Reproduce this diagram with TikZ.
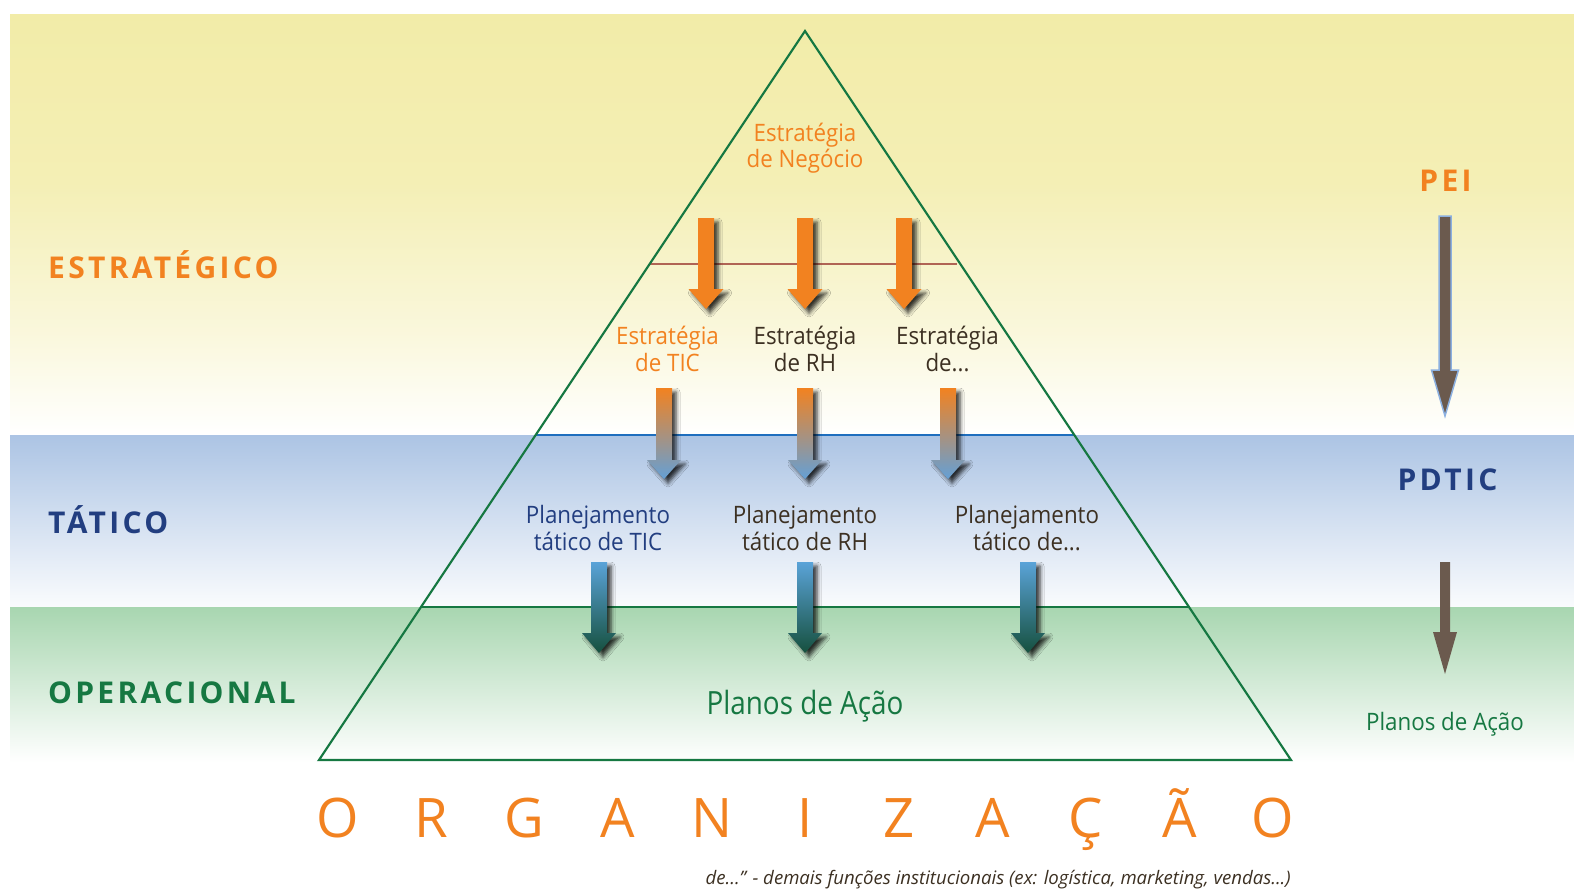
\documentclass[tikz,border=0pt]{standalone}
\usepackage{fontspec}
\setmainfont{Open Sans}
\newfontfamily\headf[LetterSpace=11]{Open Sans}
\newfontfamily\bigf[FakeStretch=0.87]{Open Sans}
\newfontfamily\lblf[FakeStretch=0.93]{Open Sans}
\usetikzlibrary{shadows.blur}
\definecolor{orng}{RGB}{242,130,32}
\definecolor{navy}{RGB}{34,62,128}
\definecolor{grn}{RGB}{22,120,66}
\definecolor{dbrown}{RGB}{60,48,34}
\definecolor{ylw}{RGB}{242,236,168}
\definecolor{blu}{RGB}{172,196,228}
\definecolor{lgrn}{RGB}{168,214,176}
\definecolor{pbrown}{RGB}{107,90,78}
\definecolor{pblue}{RGB}{140,176,224}
\definecolor{lineblue}{RGB}{30,110,190}
\definecolor{linebrown}{RGB}{176,100,84}
\definecolor{tblue}{RGB}{90,163,216}
\definecolor{tgreen}{RGB}{22,80,62}
\definecolor{obl}{RGB}{100,160,214}
\pgfdeclareverticalshading{yfade}{100bp}{color(0bp)=(white); color(25bp)=(white); color(37bp)=(ylw!40); color(55bp)=(ylw!85); color(75bp)=(ylw); color(100bp)=(ylw)}
% block arrow: x, top y, head y, tip y, half shaft, half head, style
\newcommand\barrow[7]{\path[#7] (#1-#5,-#2) -- (#1+#5,-#2) -- (#1+#5,-#3) -- (#1+#6,-#3) -- (#1,-#4) -- (#1-#6,-#3) -- (#1-#5,-#3) -- cycle;}
\tikzset{
  ashadow/.style={blur shadow={shadow xshift=4pt,shadow yshift=-4pt,shadow blur radius=4pt,shadow opacity=80}},
  lbl/.style={font=\lblf\fontsize{24}{26.5}\selectfont, align=center, inner sep=0pt},
  head/.style={font=\headf\bfseries\fontsize{30}{36}\selectfont, inner sep=0pt},
  orgletter/.style={font=\fontsize{54.5}{60}\selectfont, text=orng, inner sep=0pt, anchor=base},
  pyr/.style={grn, line width=2.2pt, line join=miter},
}
\begin{document}
\begin{tikzpicture}[x=1pt,y=1pt]
\useasboundingbox (0,0) rectangle (1574,-889);
\fill[white] (0,0) rectangle (1574,-889);
% bands
\shade[shading=yfade] (10,-14) rectangle (1574,-435);
\shade[top color=blu, bottom color=white!94!blu] (10,-435) rectangle (1574,-607);
\shade[top color=lgrn, bottom color=white] (10,-607) rectangle (1574,-762);
% pyramid
\coordinate (apex) at (805,-31);
\coordinate (bl) at (319,-760);
\coordinate (br) at (1291,-760);
\coordinate (s1l) at (650,-264);
\coordinate (s1r) at (957,-264);
\coordinate (s2l) at (535.7,-435);
\coordinate (s2r) at (1074.3,-435);
\coordinate (s3l) at (421,-607);
\coordinate (s3r) at (1189,-607);
\draw[linebrown, line width=2.2pt] (s1l) -- (s1r);
\draw[lineblue, line width=2.5pt] (s2l) -- (s2r);
\draw[grn, line width=2.5pt] (s3l) -- (s3r);
\draw[pyr] (apex) -- (bl) -- (br) -- cycle;
% orange arrows
\barrow{706}{218}{289}{309}{8}{17.5}{fill=orng, ashadow}
\barrow{805}{218}{289}{309}{8}{17.5}{fill=orng, ashadow}
\barrow{904}{218}{289}{309}{8}{17.5}{fill=orng, ashadow}
% orange-blue arrows
\barrow{664}{388}{460}{479}{8}{17}{top color=orng, bottom color=obl, ashadow}
\barrow{805}{388}{460}{479}{8}{17}{top color=orng, bottom color=obl, ashadow}
\barrow{948}{388}{460}{479}{8}{17}{top color=orng, bottom color=obl, ashadow}
% blue-green arrows
\barrow{599}{562}{633}{653}{8}{17}{top color=tblue, bottom color=tgreen, ashadow}
\barrow{805}{562}{633}{653}{8}{17}{top color=tblue, bottom color=tgreen, ashadow}
\barrow{1028}{562}{633}{653}{8}{17}{top color=tblue, bottom color=tgreen, ashadow}
% right column arrows
\barrow{1445}{216}{370}{416}{6}{13.5}{fill=pbrown, draw=pblue, line width=1.5pt}
\barrow{1445}{562}{632}{674}{5}{12}{fill=pbrown}
% texts in pyramid
\node[lbl, text=orng] (neg) at (805,-148) {Estratégia\\de Negócio};
\node[lbl, text=orng] (etic) at (667.5,-349) {Estratégia\\de TIC};
\node[lbl, text=dbrown] (erh) at (805,-349) {Estratégia\\de RH};
\node[lbl, text=dbrown] (eoutro) at (947.5,-349) {Estratégia\\de...};
\node[lbl, text=navy] (ptic) at (598,-528) {Planejamento\\tático de TIC};
\node[lbl, text=dbrown] (prh) at (805,-528) {Planejamento\\tático de RH};
\node[lbl, text=dbrown] (poutro) at (1027,-528) {Planejamento\\tático de...};
\node[font=\bigf\fontsize{32}{36}\selectfont, text=grn, inner sep=0pt] (planos) at (805,-706.5) {Planos de Ação};
% left headings
\node[head, text=orng, anchor=base west] (hest) at (48,-278) {ESTRATÉGICO};
\node[head, text=navy, anchor=base west] (htat) at (48,-533) {TÁTICO};
\node[head, text=grn, anchor=base west] (hop) at (48,-703) {OPERACIONAL};
% right column
\node[head, text=orng, anchor=base] (pei) at (1445.5,-191.5) {PEI};
\node[head, text=navy, anchor=base] (pdtic) at (1447.5,-490.5) {PDTIC};
\node[lbl, text=grn] (planosr) at (1445,-724.5) {Planos de Ação};
% ORGANIZACAO
\foreach \L [count=\i from 0] in {O,R,G,A,N,I,Z,A,Ç,Ã,O}
  \node[orgletter] (org\i) at ({337.5+93.55*\i},-837) {\L};
% footnote
\node[font=\itshape\fontsize{18.6}{22}\selectfont, text=dbrown, anchor=base east, inner sep=0pt] (nota) at (1291,-884) {de...” - demais funções institucionais (ex: logística, marketing, vendas...)};
\end{tikzpicture}
\end{document}
